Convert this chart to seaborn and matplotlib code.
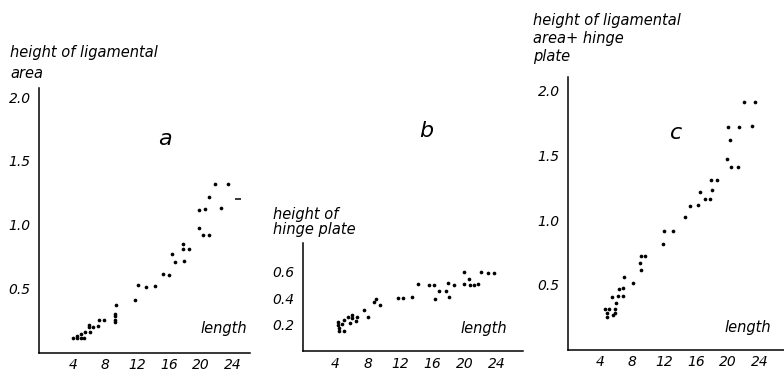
import matplotlib
matplotlib.use("Agg")
import matplotlib.pyplot as plt
import seaborn as sns
import pandas as pd

# ---------------- data ----------------
# panel a: height of ligamental area vs length
a_length = [3.96, 4.46, 4.46, 4.96, 5.04, 5.38, 5.54, 6.13, 5.96, 6.04, 6.54, 7.13, 7.21, 7.88,
            9.2, 9.2, 9.2, 9.2, 9.38, 11.8, 12.1, 13.1, 14.3, 15.3, 15.96, 16.4, 16.7, 17.9,
            17.7, 17.7, 18.5, 19.7, 20.2, 20.96, 19.7, 20.5, 21.0, 22.5, 21.8, 23.4]
a_height = [0.116, 0.127, 0.111, 0.111, 0.143, 0.116, 0.158, 0.158, 0.215, 0.20, 0.20, 0.205, 0.257, 0.257,
            0.304, 0.283, 0.257, 0.241, 0.372, 0.415, 0.526, 0.515, 0.523, 0.615, 0.609, 0.769, 0.706, 0.714,
            0.850, 0.810, 0.813, 0.973, 0.918, 0.918, 1.118, 1.121, 1.220, 1.134, 1.322, 1.317]
a_dash_length = [24.6]
a_dash_height = [1.20]

# panel b: height of hinge plate vs length
b_length = [4.37, 4.37, 4.46, 4.46, 4.87, 5.12, 5.04, 5.54, 5.79, 6.11, 6.11, 6.53, 6.69, 7.52, 8.02,
            8.84, 9.01, 9.58, 11.73, 12.39, 13.54, 14.29, 15.61, 16.2, 16.36, 16.85, 17.68, 18.0,
            18.67, 18.09, 19.91, 19.99, 20.57, 20.66, 21.23, 21.72, 22.06, 22.89, 23.63]
b_height = [0.222, 0.197, 0.172, 0.152, 0.203, 0.152, 0.235, 0.258, 0.210, 0.273, 0.248, 0.228, 0.258,
            0.311, 0.258, 0.374, 0.395, 0.349, 0.400, 0.405, 0.41, 0.506, 0.50, 0.503, 0.395, 0.456,
            0.453, 0.514, 0.503, 0.41, 0.509, 0.602, 0.544, 0.503, 0.503, 0.509, 0.602, 0.592, 0.59]

# panel c: height of ligamental area + hinge plate vs length
c_length = [4.66, 5.09, 5.84, 5.91, 4.84, 4.84, 5.66, 5.5, 6.0, 6.25, 6.84, 6.34, 6.91, 7.0, 8.09,
            9.0, 9.16, 9.09, 9.66, 11.84, 12.0, 13.16, 14.59, 15.25, 16.25, 16.5, 17.09, 17.75, 18.0,
            17.84, 18.59, 19.84, 20.34, 21.29, 20.0, 21.34, 20.25, 23.0, 22.0, 23.34]
c_height = [0.317, 0.312, 0.312, 0.286, 0.286, 0.255, 0.270, 0.405, 0.363, 0.415, 0.415, 0.466, 0.476,
            0.564, 0.513, 0.667, 0.615, 0.724, 0.724, 0.816, 0.914, 0.914, 1.022, 1.112, 1.12, 1.218,
            1.166, 1.166, 1.236, 1.313, 1.313, 1.47, 1.413, 1.413, 1.72, 1.72, 1.62, 1.73, 1.915, 1.91]

x_ticks = [4, 8, 12, 16, 20, 24]
x_ticklabels = ["4", "8", "12", "16", "20", "24"]
ac_yticks = [0.5, 1.0, 1.5, 2.0]
ac_yticklabels = ["0.5", "1.0", "1.5", "2.0"]
b_yticks = [0.2, 0.4, 0.6]
b_yticklabels = ["0.2", "0.4", "0.6"]

# ---------------- style ----------------
sns.set_style("white")
plt.rcParams["font.family"] = ["DejaVu Sans"]
plt.rcParams["font.style"] = "italic"

W, H = 784, 371
fig = plt.figure(figsize=(W / 100, H / 100), dpi=100)


def px(x, y):
    return x / W, 1 - y / H


def make_axes(left, right, bottom, top, xlim, ylim):
    ax = fig.add_axes([left / W, 1 - bottom / H, (right - left) / W, (bottom - top) / H])
    ax.set_xlim(*xlim)
    ax.set_ylim(*ylim)
    for s in ["top", "right"]:
        ax.spines[s].set_visible(False)
    for s in ["left", "bottom"]:
        ax.spines[s].set_color("black")
        ax.spines[s].set_linewidth(1.1)
    ax.set_facecolor("none")
    ax.tick_params(axis="x", direction="in", length=7, width=1.0, pad=4,
                   labelsize=10, colors="black")
    ax.tick_params(axis="y", direction="in", length=4, width=1.0, pad=6,
                   labelsize=10, colors="black")
    ax.set_xticks(x_ticks)
    ax.set_xticklabels(x_ticklabels, fontstyle="italic")
    ax.set_xlabel("")
    ax.set_ylabel("")
    return ax


dot = dict(color="black", s=7, linewidth=0, legend=False)

# panel a
ax_a = make_axes(39, 249.8, 352.5, 88.2, (-0.25, 26.1), (0, 2.07))
sns.scatterplot(data=pd.DataFrame({"length": a_length, "height": a_height}),
                x="length", y="height", ax=ax_a, **dot)
sns.scatterplot(data=pd.DataFrame({"length": a_dash_length, "height": a_dash_height}),
                x="length", y="height", ax=ax_a, marker="_", s=25, color="black",
                linewidth=1.1, legend=False)
ax_a.set_yticks(ac_yticks)
ax_a.set_yticklabels(ac_yticklabels, fontstyle="italic")
ax_a.set_xlabel("")
ax_a.set_ylabel("")

# panel b
ax_b = make_axes(303, 522.5, 351, 243, (0, 27.2), (0, 0.82))
sns.scatterplot(data=pd.DataFrame({"length": b_length, "height": b_height}),
                x="length", y="height", ax=ax_b, **dot)
ax_b.set_yticks(b_yticks)
ax_b.set_yticklabels(b_yticklabels, fontstyle="italic")
ax_b.set_xlabel("")
ax_b.set_ylabel("")

# panel c
ax_c = make_axes(568, 784, 349.7, 76.5, (0, 27.0), (0, 2.11))
sns.scatterplot(data=pd.DataFrame({"length": c_length, "height": c_height}),
                x="length", y="height", ax=ax_c, **dot)
ax_c.set_yticks(ac_yticks)
ax_c.set_yticklabels(ac_yticklabels, fontstyle="italic")
ax_c.set_xlabel("")
ax_c.set_ylabel("")

# ---------------- texts ----------------
lab = dict(fontsize=10.5, fontstyle="italic", ha="left", va="baseline", color="black")
fig.text(*px(10, 57.5), "height of ligamental", **lab)
fig.text(*px(10, 77.5), "area", **lab)

fig.text(*px(273, 218.5), "height of", **lab)
fig.text(*px(273, 234), "hinge plate", **lab)

fig.text(*px(533, 25), "height of ligamental", **lab)
fig.text(*px(533, 43), "area+ hinge", **lab)
fig.text(*px(533, 61), "plate", **lab)

lenkw = dict(fontsize=10.5, fontstyle="italic", ha="center", va="center", color="black")
fig.text(*px(224, 329), "length", **lenkw)
fig.text(*px(484, 328.5), "length", **lenkw)
fig.text(*px(748, 327.5), "length", **lenkw)

letkw = dict(fontsize=16, fontstyle="italic", ha="center", va="center", color="black")
fig.text(*px(165, 139), "a", **letkw)
fig.text(*px(426, 131), "b", **letkw)
fig.text(*px(676, 133), "c", **letkw)

fig.savefig("out.png", dpi=100)
